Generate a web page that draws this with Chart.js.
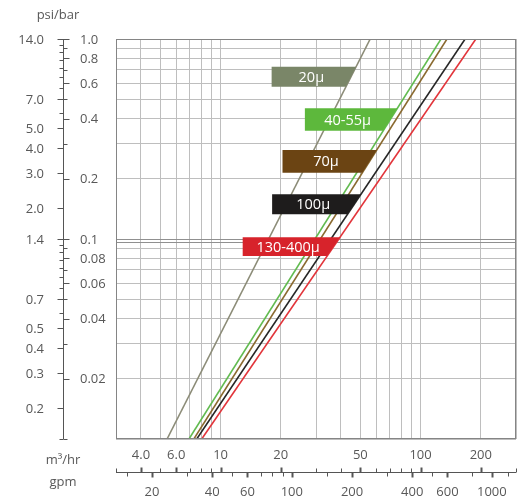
<!DOCTYPE html>
<html>
<head>
<meta charset="utf-8">
<script src="https://cdn.jsdelivr.net/npm/chart.js@4.4.1/dist/chart.umd.min.js"></script>
<style>
  html, body { margin: 0; padding: 0; background: #fff; }
  #wrap { width: 517px; height: 502px; position: relative; }
</style>
</head>
<body>
<div id="wrap"><canvas id="chart"></canvas></div>
<script>
// Pressure drop (bar) against flow (m3/hr), one straight log-log line per screen rating
const pressureBar = [0.01, 1.0];
const flow20 = [5.4, 56];
const flow40 = [6.95, 126.5];
const flow70 = [7.35, 135.5];
const flow100 = [7.6, 167];
const flow130 = [8.05, 189];

// grid values of the log plot (0.0966 bar is the 1.4 psi reference line)
const flowGrid = [3, 4, 5, 6, 7, 8, 9, 10, 20, 30, 40, 50, 60, 70, 80, 90, 100, 200, 300];
const barGrid = [0.01, 0.02, 0.03, 0.04, 0.05, 0.06, 0.07, 0.08, 0.09, 0.0966, 0.1,
                 0.2, 0.3, 0.4, 0.5, 0.6, 0.7, 0.8, 0.9, 1.0];
const strongGrid = [0.1, 0.0966];

// axis labels
const flowTicks = [4, 6, 10, 20, 50, 100, 200];
const flowLabels = ['4.0', '6.0', '10', '20', '50', '100', '200'];
const flowMinor = [3, 5, 7, 8, 9, 30, 40, 60, 70, 80, 90, 300];
const gpmTicks = [20, 40, 60, 100, 200, 400, 600, 1000];
const gpmLabels = ['20', '40', '60', '100', '200', '400', '600', '1000'];
const gpmMinor = [15, 30, 50, 70, 80, 90, 150, 300, 500, 800, 1200];
const barTicks = [1.0, 0.8, 0.6, 0.4, 0.2, 0.1, 0.08, 0.06, 0.04, 0.02];
const barLabels = ['1.0', '0.8', '0.6', '0.4', '0.2', '0.1', '0.08', '0.06', '0.04', '0.02'];
const barMinor = [0.9, 0.7, 0.5, 0.3, 0.09, 0.07, 0.05, 0.03, 0.01];
const psiTicks = [14, 7, 5, 4, 3, 2, 1.4, 0.7, 0.5, 0.4, 0.3, 0.2];
const psiLabels = ['14.0', '7.0', '5.0', '4.0', '3.0', '2.0', '1.4', '0.7', '0.5', '0.4', '0.3', '0.2'];
const psiMinor = [13, 12, 11, 10, 9, 8, 6, 1.3, 1.2, 1.1, 1.0, 0.9, 0.8, 0.6, 0.14];

const GPM_PER_M3H = 4.403;
const PSI_PER_BAR = 14;

const series = [
  { label: '20μ', flow: flow20, color: '#8c8c78' },
  { label: '40-55μ', flow: flow40, color: '#62bb50' },
  { label: '70μ', flow: flow70, color: '#8a6a30' },
  { label: '100μ', flow: flow100, color: '#262626' },
  { label: '130-400μ', flow: flow130, color: '#e2353b' }
];

// rating tags: bar range of the tag, its left edge in m3/hr; right edge sits on the line
const tags = [
  { line: 0, top: 0.727, bottom: 0.577, left: 18.0, fill: '#7a8668' },
  { line: 1, top: 0.450, bottom: 0.348, left: 26.4, fill: '#5db83c' },
  { line: 2, top: 0.279, bottom: 0.2145, left: 20.4, fill: '#6b4413' },
  { line: 3, top: 0.1674, bottom: 0.1329, left: 18.1, fill: '#1e1c1c' },
  { line: 4, top: 0.102, bottom: 0.0822, left: 12.9, fill: '#d7232b' }
];

const FONT = '"Open Sans", "Noto Sans", sans-serif';
const TEXT = '#585858';

const tagPlugin = {
  id: 'tags',
  afterDatasetsDraw(chart) {
    const { ctx, scales: { x, y } } = chart;
    tags.forEach(t => {
      const s = series[t.line];
      const x0 = x.getPixelForValue(s.flow[0]), y0 = y.getPixelForValue(pressureBar[0]);
      const x1 = x.getPixelForValue(s.flow[1]), y1 = y.getPixelForValue(pressureBar[1]);
      const xAt = py => x0 + (py - y0) * (x1 - x0) / (y1 - y0);
      const yt = y.getPixelForValue(t.top), yb = y.getPixelForValue(t.bottom);
      const xl = x.getPixelForValue(t.left);
      ctx.save();
      ctx.fillStyle = t.fill;
      ctx.beginPath();
      ctx.moveTo(xl, yt);
      ctx.lineTo(xAt(yt), yt);
      ctx.lineTo(xAt(yb), yb);
      ctx.lineTo(xl, yb);
      ctx.closePath();
      ctx.fill();
      ctx.fillStyle = '#fff';
      ctx.font = '14.5px ' + FONT;
      ctx.textAlign = 'center';
      ctx.textBaseline = 'middle';
      const cx = (xl + (xAt(yt) + xAt(yb)) / 2) / 2;
      ctx.fillText(s.label, cx, (yt + yb) / 2 + 1);
      ctx.restore();
    });
  }
};

const axesPlugin = {
  id: 'dualAxes',
  afterDraw(chart) {
    const { ctx, chartArea: a, scales: { x, y } } = chart;
    ctx.save();
    // plot frame
    ctx.strokeStyle = '#858585';
    ctx.lineWidth = 1;
    ctx.strokeRect(a.left + 0.5, a.top + 0.5, a.right - a.left - 1, a.bottom - a.top - 1);

    ctx.strokeStyle = '#555';
    ctx.fillStyle = TEXT;
    ctx.font = '13px ' + FONT;
    ctx.textBaseline = 'middle';

    // psi / bar axis
    const ax = 63.5;
    ctx.beginPath();
    ctx.moveTo(ax, y.getPixelForValue(1));
    ctx.lineTo(ax, y.getPixelForValue(0.01));
    ctx.stroke();
    const tick = (x1, x2, py, w) => {
      ctx.lineWidth = w;
      ctx.beginPath();
      ctx.moveTo(x1, Math.round(py) + 0.5);
      ctx.lineTo(x2, Math.round(py) + 0.5);
      ctx.stroke();
    };
    barMinor.forEach(v => tick(ax, ax + 4, y.getPixelForValue(v), 1));
    barTicks.forEach((v, i) => {
      const py = y.getPixelForValue(v);
      tick(ax, ax + 6, py, 1);
      ctx.textAlign = 'left';
      ctx.fillText(barLabels[i], 80, py + 1);
    });
    psiMinor.forEach(v => tick(ax - 4, ax, y.getPixelForValue(v / PSI_PER_BAR), 1));
    psiTicks.forEach((v, i) => {
      const py = y.getPixelForValue(v / PSI_PER_BAR);
      tick(ax - 6, ax, py, 1);
      ctx.textAlign = 'right';
      ctx.fillText(psiLabels[i], 44, py + 1);
    });
    ctx.textAlign = 'center';
    ctx.fillText('psi/bar', 58, 15);

    // m3/hr / gpm axis
    const ay = a.bottom + 33.5;
    ctx.lineWidth = 1;
    ctx.beginPath();
    ctx.moveTo(x.getPixelForValue(3), ay);
    ctx.lineTo(x.getPixelForValue(300), ay);
    ctx.stroke();
    const vtick = (px, y1, y2, w) => {
      ctx.lineWidth = w;
      ctx.beginPath();
      ctx.moveTo(Math.round(px) + 0.5, y1);
      ctx.lineTo(Math.round(px) + 0.5, y2);
      ctx.stroke();
    };
    flowMinor.forEach(v => vtick(x.getPixelForValue(v), ay - 4, ay, 1));
    flowTicks.forEach((v, i) => {
      const px = x.getPixelForValue(v);
      vtick(px, ay - 5, ay, 2);
      ctx.textAlign = 'center';
      ctx.fillText(flowLabels[i], px, ay - 17);
    });
    gpmMinor.forEach(v => vtick(x.getPixelForValue(v / GPM_PER_M3H), ay, ay + 4, 1));
    gpmTicks.forEach((v, i) => {
      const px = x.getPixelForValue(v / GPM_PER_M3H);
      vtick(px, ay, ay + 5, 2);
      ctx.fillText(gpmLabels[i], px, ay + 20);
    });
    ctx.fillText('m³/hr', 63, ay - 12);
    ctx.fillText('gpm', 63, ay + 10);
    ctx.restore();
  }
};

const gridColor = c => (c.tick && strongGrid.includes(c.tick.value) ? '#909090' : '#bebebe');

new Chart(document.getElementById('chart'), {
  type: 'line',
  data: {
    datasets: series.map(s => ({
      label: s.label,
      data: s.flow.map((q, i) => ({ x: q, y: pressureBar[i] })),
      borderColor: s.color,
      borderWidth: 1.6,
      pointRadius: 0,
      fill: false,
      clip: 0
    }))
  },
  options: {
    responsive: true,
    maintainAspectRatio: false,
    animation: false,
    layout: { padding: { left: 116, top: 39, right: 1, bottom: 63 } },
    plugins: { legend: { display: false }, tooltip: { enabled: false } },
    scales: {
      x: {
        type: 'logarithmic', min: 3, max: 300,
        afterBuildTicks: s => { s.ticks = flowGrid.map(v => ({ value: v })); },
        ticks: { display: false },
        grid: { color: '#bebebe', drawTicks: false },
        border: { display: false }
      },
      y: {
        type: 'logarithmic', min: 0.01, max: 1,
        afterBuildTicks: s => { s.ticks = barGrid.map(v => ({ value: v })); },
        ticks: { display: false },
        grid: { color: gridColor, drawTicks: false },
        border: { display: false }
      }
    }
  },
  plugins: [tagPlugin, axesPlugin]
});
</script>
</body>
</html>
